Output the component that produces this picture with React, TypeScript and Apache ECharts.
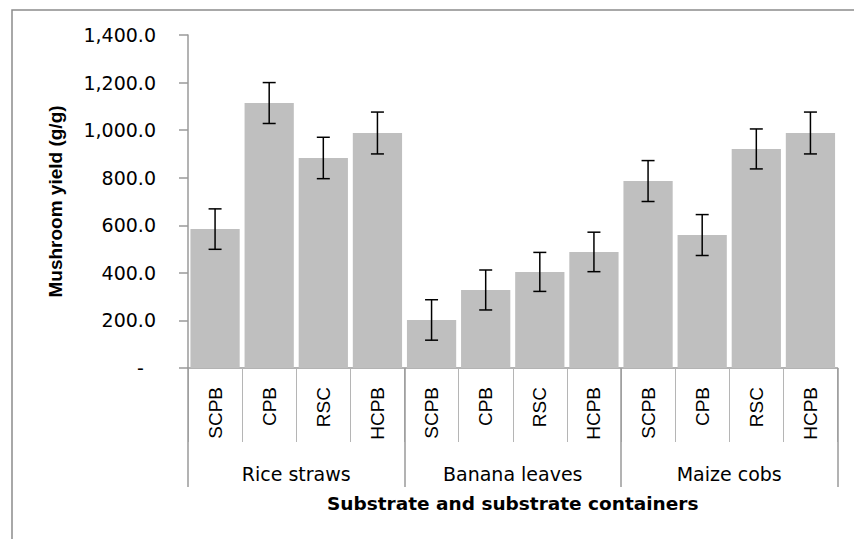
import React, { useEffect, useRef } from "react";
import * as echarts from "echarts";

const containers = ["SCPB", "CPB", "RSC", "HCPB", "SCPB", "CPB", "RSC", "HCPB", "SCPB", "CPB", "RSC", "HCPB"];
const substrates = ["Rice straws", "Banana leaves", "Maize cobs"];
const yieldValues = [584, 1114, 883, 988, 202, 328, 404, 488, 786, 559, 921, 988];
const errorValues = [85, 86, 87, 88, 85, 84, 82, 83, 86, 86, 84, 88];
const yTicks = [0, 200, 400, 600, 800, 1000, 1200, 1400];

const axisGrey = "#9a9a9a";

export default function App() {
  const ref = useRef<HTMLDivElement>(null);
  useEffect(() => {
    document.body.style.margin = "0";
    if (!ref.current) return;
    const chart = echarts.init(ref.current, null, { renderer: "svg" });
    const errData = yieldValues.map((v, i) => [i, v, errorValues[i]]);
    chart.setOption({
      animation: false,
      backgroundColor: "#ffffff",
      graphic: [
        {
          type: "rect",
          shape: { x: 12, y: 10, width: 900, height: 600 },
          style: { fill: "none", stroke: "#8c8c8c", lineWidth: 1.5 },
          silent: true,
        },
      ],
      grid: { left: 188, right: 16.5, top: 35, bottom: 171 },
      xAxis: [
        {
          type: "category",
          data: containers,
          position: "bottom",
          axisLine: { show: true, lineStyle: { color: axisGrey, width: 1.5 } },
          axisTick: { show: true, interval: 0, length: 74, lineStyle: { color: "#b5b5b5", width: 1 } },
          axisLabel: {
            interval: 0,
            rotate: 90,
            margin: 19,
            fontFamily: "Liberation Sans",
            fontSize: 19,
            color: "#000",
          },
        },
        {
          type: "category",
          data: substrates,
          position: "bottom",
          offset: 0,
          axisLine: { show: false },
          axisTick: { show: true, interval: 0, length: 119, lineStyle: { color: axisGrey, width: 1.5 } },
          axisLabel: {
            interval: 0,
            margin: 96,
            fontFamily: "DejaVu Sans",
            fontSize: 19,
            color: "#000",
          },
          name: "Substrate and substrate containers",
          nameLocation: "middle",
          nameGap: 126,
          nameTextStyle: { fontFamily: "DejaVu Sans", fontWeight: "bold", fontSize: 18.5, color: "#000" },
        },
      ],
      yAxis: {
        type: "value",
        min: 0,
        max: 1400,
        interval: 200,
        splitLine: { show: false },
        axisLine: { show: true, lineStyle: { color: axisGrey, width: 1.5 } },
        axisTick: { show: true, length: 9, lineStyle: { color: axisGrey, width: 1.5 } },
        axisLabel: {
          margin: 32,
          fontFamily: "DejaVu Sans",
          fontSize: 19,
          color: "#000",
          formatter: (v: number) =>
            v === 0 && yTicks.includes(v)
              ? "-  "
              : v.toLocaleString("en-US", { minimumFractionDigits: 1, maximumFractionDigits: 1 }),
        },
        name: "Mushroom yield (g/g)",
        nameLocation: "middle",
        nameGap: 123,
        nameTextStyle: { fontFamily: "Liberation Sans", fontWeight: "bold", fontSize: 19, color: "#000" },
      },
      series: [
        {
          type: "bar",
          xAxisIndex: 0,
          data: yieldValues,
          barCategoryGap: "9%",
          itemStyle: { color: "#bfbfbf" },
        },
        {
          type: "custom",
          xAxisIndex: 0,
          data: errData,
          z: 10,
          renderItem: (params: any, api: any) => {
            const x = api.value(0);
            const v = api.value(1);
            const e = api.value(2);
            const top = api.coord([x, v + e]);
            const bot = api.coord([x, v - e]);
            const hw = 6.5;
            const style = { stroke: "#000", lineWidth: 1.5 };
            return {
              type: "group",
              children: [
                { type: "line", shape: { x1: top[0], y1: top[1], x2: bot[0], y2: bot[1] }, style },
                { type: "line", shape: { x1: top[0] - hw, y1: top[1], x2: top[0] + hw, y2: top[1] }, style },
                { type: "line", shape: { x1: bot[0] - hw, y1: bot[1], x2: bot[0] + hw, y2: bot[1] }, style },
              ],
            };
          },
        },
      ],
    });
    return () => chart.dispose();
  }, []);
  return <div ref={ref} style={{ width: 854, height: 539 }} />;
}
